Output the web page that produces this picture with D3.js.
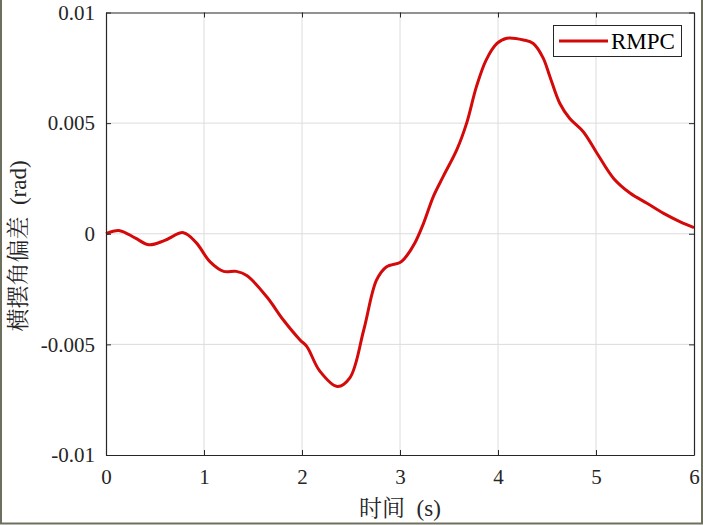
<!DOCTYPE html>
<html>
<head>
<meta charset="utf-8">
<script src="https://cdn.jsdelivr.net/npm/d3@7"></script>
<style>
  html, body { margin: 0; padding: 0; background: #fff; }
  svg { display: block; }
</style>
</head>
<body>
<svg id="chart" width="703" height="525"></svg>
<script>
// ---- data ----
const seriesName = "RMPC";
const time = [0, 0.14, 0.3, 0.44, 0.6, 0.79, 0.92, 1.06, 1.2, 1.33, 1.44, 1.64, 1.81, 1.98, 2.05, 2.18, 2.36, 2.49, 2.63, 2.76, 2.86, 3.0, 3.05, 3.15, 3.24, 3.34, 3.44, 3.58, 3.68, 3.78, 3.88, 3.99, 4.09, 4.26, 4.36, 4.46, 4.53, 4.63, 4.73, 4.87, 5.01, 5.18, 5.35, 5.52, 5.69, 5.86, 6.0];
const yawError = [0, 0.00014, -0.0002, -0.0005, -0.0003, 0.00005, -0.0004, -0.00126, -0.0017, -0.0017, -0.0019, -0.00285, -0.0039, -0.0048, -0.0051, -0.0062, -0.0069, -0.0065, -0.00435, -0.0021, -0.0015, -0.0013, -0.0011, -0.00043, 0.00047, 0.00168, 0.00258, 0.0038, 0.005, 0.00665, 0.00786, 0.0086, 0.00884, 0.00876, 0.0086, 0.00795, 0.0071, 0.0059, 0.00522, 0.00461, 0.00364, 0.0025, 0.00183, 0.00138, 0.00092, 0.00054, 0.00028];
const xTicks = [0, 1, 2, 3, 4, 5, 6];
const yTicks = [-0.01, -0.005, 0, 0.005, 0.01];
const yTickLabels = ["-0.01", "-0.005", "0", "0.005", "0.01"];
const xLabel = "时间  (s)";
const yLabel = "横摆角偏差  (rad)";

// ---- layout ----
const W = 703, H = 525;
const L = 106, R = 694, T = 12.5, B = 455;
const svg = d3.select("#chart");
const serif = "'Liberation Serif', 'Times New Roman', 'Noto Serif CJK SC', 'Noto Sans CJK SC', serif";
const axisColor = "#262626";

svg.append("rect").attr("width", W).attr("height", H).attr("fill", "#fff");

const x = d3.scaleLinear().domain([0, 6]).range([L, R]);
const y = d3.scaleLinear().domain([-0.01, 0.01]).range([B, T]);

// grid
const grid = svg.append("g");
grid.selectAll("line.gx").data(xTicks.slice(1, -1)).join("line")
  .attr("x1", d => x(d)).attr("x2", d => x(d)).attr("y1", T).attr("y2", B)
  .attr("stroke", "#dcdcdc").attr("stroke-width", 1);
grid.selectAll("line.gy").data(yTicks.slice(1, -1)).join("line")
  .attr("y1", d => y(d)).attr("y2", d => y(d)).attr("x1", L).attr("x2", R)
  .attr("stroke", "#dcdcdc").attr("stroke-width", 1);

// curve
const data = time.map((t, i) => ({t, v: yawError[i]}));
const line = d3.line().x(d => x(d.t)).y(d => y(d.v)).curve(d3.curveCatmullRom.alpha(0.5));
svg.append("path").datum(data).attr("d", line)
  .attr("fill", "none").attr("stroke", "#d40a0a").attr("stroke-width", 3)
  .attr("stroke-linejoin", "round");

// axes (box with inward ticks)
const tickLen = 5;
const xBottom = d3.axisBottom(x).tickValues(xTicks).tickSizeInner(-tickLen).tickSizeOuter(0).tickPadding(14).tickFormat(d3.format("d"));
const xTop = d3.axisTop(x).tickValues(xTicks).tickSizeInner(-tickLen).tickSizeOuter(0).tickFormat("");
const yLeft = d3.axisLeft(y).tickValues(yTicks).tickSizeInner(-tickLen).tickSizeOuter(0).tickPadding(11).tickFormat((d, i) => yTickLabels[i]);
const yRight = d3.axisRight(y).tickValues(yTicks).tickSizeInner(-tickLen).tickSizeOuter(0).tickFormat("");

function style(g) {
  g.selectAll("path").attr("stroke", axisColor).attr("stroke-width", 1.2);
  g.selectAll("line").attr("stroke", axisColor).attr("stroke-width", 1);
  g.selectAll("text").attr("fill", axisColor).style("font-family", serif).style("font-size", "21px");
}
svg.append("g").attr("transform", `translate(0,${B})`).call(xBottom).call(style);
svg.append("g").attr("transform", `translate(0,${T})`).call(xTop).call(style);
svg.append("g").attr("transform", `translate(${L},0)`).call(yLeft).call(style);
svg.append("g").attr("transform", `translate(${R},0)`).call(yRight).call(style);

// axis titles
svg.append("text").attr("x", (L + R) / 2).attr("y", 516)
  .attr("text-anchor", "middle").attr("fill", axisColor)
  .style("white-space", "pre")
  .style("font-family", serif).style("font-size", "23px").text(xLabel);
svg.append("text").attr("transform", "translate(26,246) rotate(-90)")
  .attr("text-anchor", "middle").attr("fill", axisColor)
  .style("white-space", "pre")
  .style("font-family", serif).style("font-size", "23px").text(yLabel);

// legend
const lg = svg.append("g");
lg.append("rect").attr("x", 553.5).attr("y", 25.5).attr("width", 128).attr("height", 31)
  .attr("fill", "#fff").attr("stroke", axisColor).attr("stroke-width", 1);
lg.append("line").attr("x1", 559).attr("x2", 608).attr("y1", 41).attr("y2", 41)
  .attr("stroke", "#d40a0a").attr("stroke-width", 3);
lg.append("text").attr("x", 611).attr("y", 49).attr("fill", "#000")
  .style("font-family", serif).style("font-size", "23px").text(seriesName);

// figure frame (left, right, bottom)
svg.append("path").attr("d", `M1,0 V${H - 1.5} H${W - 1} V0`)
  .attr("fill", "none").attr("stroke", "#6e705f").attr("stroke-width", 2);
</script>
</body>
</html>
